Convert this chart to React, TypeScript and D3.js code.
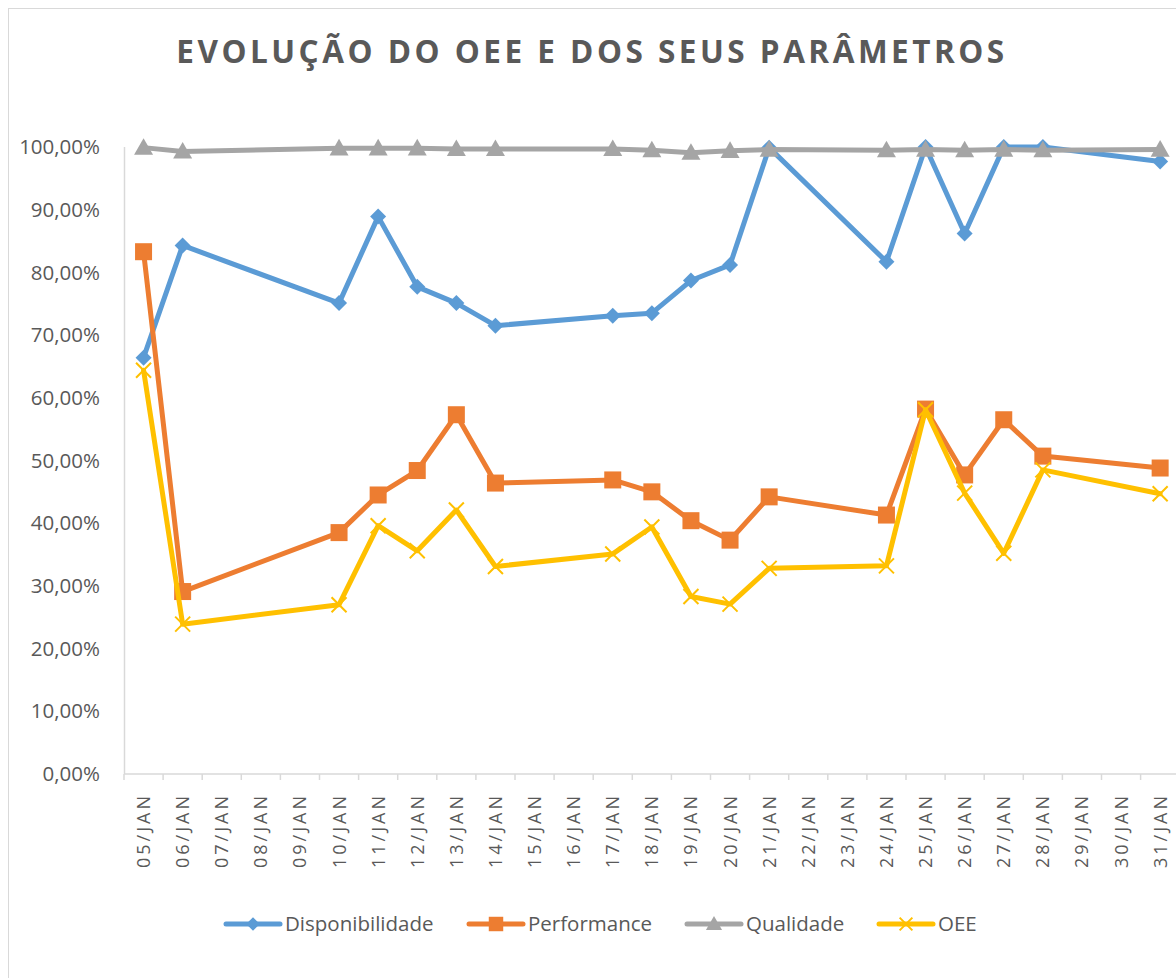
import React, { useEffect, useRef } from 'react';
import * as d3 from 'd3';

const days = [
  '05/JAN', '06/JAN', '07/JAN', '08/JAN', '09/JAN', '10/JAN', '11/JAN', '12/JAN', '13/JAN',
  '14/JAN', '15/JAN', '16/JAN', '17/JAN', '18/JAN', '19/JAN', '20/JAN', '21/JAN', '22/JAN',
  '23/JAN', '24/JAN', '25/JAN', '26/JAN', '27/JAN', '28/JAN', '29/JAN', '30/JAN', '31/JAN',
];

// values in %, null = no record that day (line joins across)
const disponibilidade = [66.4, 84.3, null, null, null, 75.1, 88.9, 77.7, 75.1, 71.5, null, null, 73.1, 73.5, 78.7, 81.2, 99.9, null, null, 81.7, 100, 86.2, 100, 100, null, null, 97.7];
const performance = [83.3, 29.1, null, null, null, 38.5, 44.5, 48.4, 57.3, 46.4, null, null, 46.9, 45.0, 40.4, 37.3, 44.2, null, null, 41.3, 58.2, 47.7, 56.5, 50.7, null, null, 48.8];
const qualidade = [99.9, 99.3, null, null, null, 99.8, 99.8, 99.8, 99.7, 99.7, null, null, 99.7, 99.5, 99.1, 99.4, 99.6, null, null, 99.5, 99.6, 99.5, 99.6, 99.5, null, null, 99.6];
const oee = [64.4, 23.9, null, null, null, 27.0, 39.6, 35.6, 42.1, 33.1, null, null, 35.1, 39.4, 28.3, 27.1, 32.8, null, null, 33.2, 58.1, 44.8, 35.2, 48.5, null, null, 44.7];

const yTicks = [0, 10, 20, 30, 40, 50, 60, 70, 80, 90, 100];

const series = [
  { name: 'Disponibilidade', values: disponibilidade, color: '#5B9BD5', marker: 'diamond' },
  { name: 'Performance', values: performance, color: '#ED7D31', marker: 'square' },
  { name: 'Qualidade', values: qualidade, color: '#A5A5A5', marker: 'triangle' },
  { name: 'OEE', values: oee, color: '#FFC000', marker: 'x' },
];

const W = 1176;
const H = 978;
const textColor = '#595959';
const axisColor = '#D9D9D9';

function drawMarker(g, type, x, y, color, scale = 1) {
  if (type === 'diamond') {
    const r = 8 * scale;
    g.append('path')
      .attr('d', `M${x},${y - r}L${x + r},${y}L${x},${y + r}L${x - r},${y}Z`)
      .attr('fill', color);
  } else if (type === 'square') {
    const s = 8.5 * scale;
    g.append('rect')
      .attr('x', x - s).attr('y', y - s)
      .attr('width', 2 * s).attr('height', 2 * s)
      .attr('fill', color);
  } else if (type === 'triangle') {
    const s = 9.5 * scale;
    g.append('path')
      .attr('d', `M${x},${y - s}L${x + s},${y + s * 0.75}L${x - s},${y + s * 0.75}Z`)
      .attr('fill', color);
  } else {
    const s = 7.5 * scale;
    g.append('path')
      .attr('d', `M${x - s},${y - s}L${x + s},${y + s}M${x + s},${y - s}L${x - s},${y + s}`)
      .attr('stroke', color)
      .attr('stroke-width', 2);
  }
}

export default function App() {
  const svgRef = useRef(null);

  useEffect(() => {
    const svg = d3.select(svgRef.current);
    svg.selectAll('*').remove();

    const left = 124;
    const bandW = 39.1;
    const x = d3.scaleBand().domain(days).range([left, left + bandW * days.length]).padding(0);
    const y = d3.scaleLinear().domain([0, 100]).range([774, 147]);
    const cx = (d) => x(d) + x.bandwidth() / 2;

    // chart frame
    svg.append('rect')
      .attr('x', 8.5).attr('y', 8.5)
      .attr('width', 1300).attr('height', 1300)
      .attr('fill', '#fff')
      .attr('stroke', axisColor);

    // title
    svg.append('text')
      .attr('x', 592).attr('y', 63)
      .attr('text-anchor', 'middle')
      .attr('font-family', '"Open Sans", sans-serif')
      .attr('font-weight', 700)
      .attr('font-size', 31.5)
      .attr('letter-spacing', 3.5)
      .attr('fill', textColor)
      .text('EVOLUÇÃO DO OEE E DOS SEUS PARÂMETROS');

    // y axis
    svg.append('line')
      .attr('x1', left + 0.5).attr('x2', left + 0.5)
      .attr('y1', y(100)).attr('y2', y(0))
      .attr('stroke', axisColor).attr('stroke-width', 1.5);

    svg.append('g')
      .selectAll('text')
      .data(yTicks)
      .join('text')
      .attr('x', 100)
      .attr('y', (d) => y(d))
      .attr('dy', '0.35em')
      .attr('text-anchor', 'end')
      .attr('font-family', '"Open Sans", sans-serif')
      .attr('font-size', 20.5)
      .attr('fill', textColor)
      .text((d) => d3.format('.2f')(d).replace('.', ',') + '%');

    // x axis
    svg.append('line')
      .attr('x1', left).attr('x2', W + 10)
      .attr('y1', y(0)).attr('y2', y(0))
      .attr('stroke', axisColor).attr('stroke-width', 1.5);

    const ticks = d3.range(days.length + 1).map((i) => left + i * x.bandwidth());
    svg.append('g')
      .selectAll('line')
      .data(ticks)
      .join('line')
      .attr('x1', (d) => d).attr('x2', (d) => d)
      .attr('y1', y(0)).attr('y2', y(0) + 6)
      .attr('stroke', axisColor).attr('stroke-width', 1.5);

    svg.append('g')
      .selectAll('text')
      .data(days)
      .join('text')
      .attr('transform', (d) => `translate(${cx(d)},868) rotate(-90)`)
      .attr('dy', '0.36em')
      .attr('text-anchor', 'start')
      .attr('font-family', '"Open Sans", sans-serif')
      .attr('font-size', 18)
      .attr('letter-spacing', 3)
      .attr('fill', textColor)
      .text((d) => d);

    // series
    const line = d3.line().x((d) => cx(d.day)).y((d) => y(d.v));
    const plot = svg.append('g');
    series.forEach((s) => {
      const pts = days.map((day, i) => ({ day, v: s.values[i] })).filter((p) => p.v != null);
      plot.append('path')
        .datum(pts)
        .attr('d', line)
        .attr('fill', 'none')
        .attr('stroke', s.color)
        .attr('stroke-width', 5)
        .attr('stroke-linejoin', 'round')
        .attr('stroke-linecap', 'round');
      const mg = plot.append('g');
      pts.forEach((p) => drawMarker(mg, s.marker, cx(p.day), y(p.v), s.color));
    });

    // legend
    const legendX = [226, 469, 687, 879];
    const lg = svg.append('g');
    series.forEach((s, i) => {
      const lx = legendX[i];
      const ly = 924;
      lg.append('line')
        .attr('x1', lx).attr('x2', lx + 54)
        .attr('y1', ly).attr('y2', ly)
        .attr('stroke', s.color).attr('stroke-width', 5)
        .attr('stroke-linecap', 'round');
      drawMarker(lg, s.marker, lx + 27, ly, s.color, 0.85);
      lg.append('text')
        .attr('x', lx + 59).attr('y', ly)
        .attr('dy', '0.35em')
        .attr('font-family', '"Open Sans", sans-serif')
        .attr('font-size', 20.5)
        .attr('fill', textColor)
        .text(s.name);
    });
  }, []);

  return (
    <div style={{ position: 'absolute', left: 0, top: 0, width: W, height: H, overflow: 'hidden', background: '#fff' }}>
      <svg ref={svgRef} width={W} height={H} style={{ display: 'block' }} />
    </div>
  );
}
